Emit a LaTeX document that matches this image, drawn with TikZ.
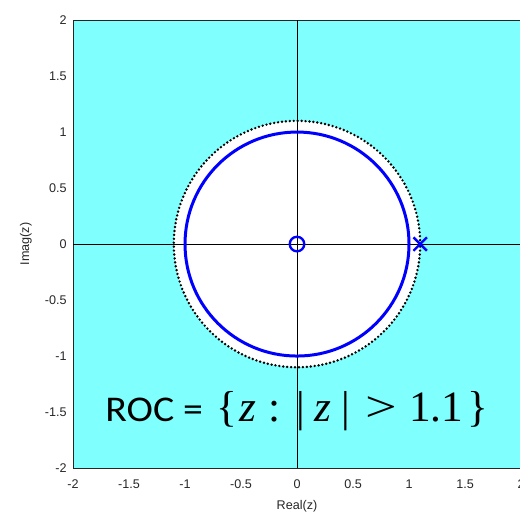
\documentclass[tikz,border=0pt]{standalone}
\usepackage{fontspec}
\setmainfont{Liberation Sans}
\newfontfamily\rocsans[FakeStretch=1.1]{Carlito}
\newfontfamily\rocserif{Liberation Serif}
\usetikzlibrary{calc}
\definecolor{RegionCyan}{HTML}{80FFFF}
\definecolor{PZBlue}{HTML}{0000FF}
\definecolor{AxisGray}{HTML}{262626}

\begin{document}
\begin{tikzpicture}[x=2.5cm,y=2.5cm,
    ticklabel/.style={font=\fontsize{8}{9}\selectfont,text=AxisGray,inner sep=0pt},
    pzmark/.style={PZBlue,line width=1.5pt}]
  \useasboundingbox (-2.652,-2.402) rectangle (1.991,2.179);
  % region of convergence and the excluded disc
  \fill[RegionCyan] (-2,-2) rectangle (2,2);
  \coordinate (origin) at (0,0);
  \coordinate (pole) at (1.1,0);
  \fill[white] (origin) circle (1.1);
  \draw[AxisGray,line width=0.5pt] (-2,-2) rectangle (2,2);
  \draw[black,line width=0.6pt] (-2,0) -- (2,0);
  \draw[black,line width=0.6pt] (0,-2) -- (0,2);
  % unit circle and ROC boundary
  \draw[PZBlue,line width=1.9pt] (origin) circle (1);
  \draw[black,line width=1.7pt,line cap=round,dash pattern=on 0pt off 2.5pt] (origin) circle (1.1);
  % zero and pole
  \draw[pzmark] (origin) circle (0.065);
  \draw[pzmark] ($(pole)+(-0.06,-0.06)$) -- ($(pole)+(0.06,0.06)$);
  \draw[pzmark] ($(pole)+(-0.06,0.06)$) -- ($(pole)+(0.06,-0.06)$);
  % tick labels
  \foreach \v/\t in {2/2,1.5/1.5,1/1,0.5/0.5,0/0,-0.5/-0.5,-1/-1,-1.5/-1.5,-2/-2}{
    \node[ticklabel,anchor=east] (ytick\t) at (-2.054,\v) {\t};
    \node[ticklabel,anchor=center] (xtick\t) at (\v,-2.147) {\t};
  }
  \node[ticklabel] (xlabel) at (0,-2.339) {Real(z)};
  \node[ticklabel,rotate=90] (ylabel) at (-2.42,0) {Imag(z)};
  % annotation
  \node[anchor=base west,inner sep=0pt] (roc) at (-1.714,-1.580)
    {{\rocsans\fontsize{23}{27}\selectfont ROC =}\hspace{8.5pt}%
     {\rocserif\fontsize{27.5}{32}\selectfont\{\hspace{1.3pt}\textit{z}\hspace{7.9pt}:\hspace{10.4pt}|\hspace{5.9pt}\textit{z}\hspace{6.3pt}|\hspace{9.7pt}\scalebox{1.3}[1]{>}\hspace{7.6pt}1.1\hspace{2.8pt}\}}};
\end{tikzpicture}
\end{document}
